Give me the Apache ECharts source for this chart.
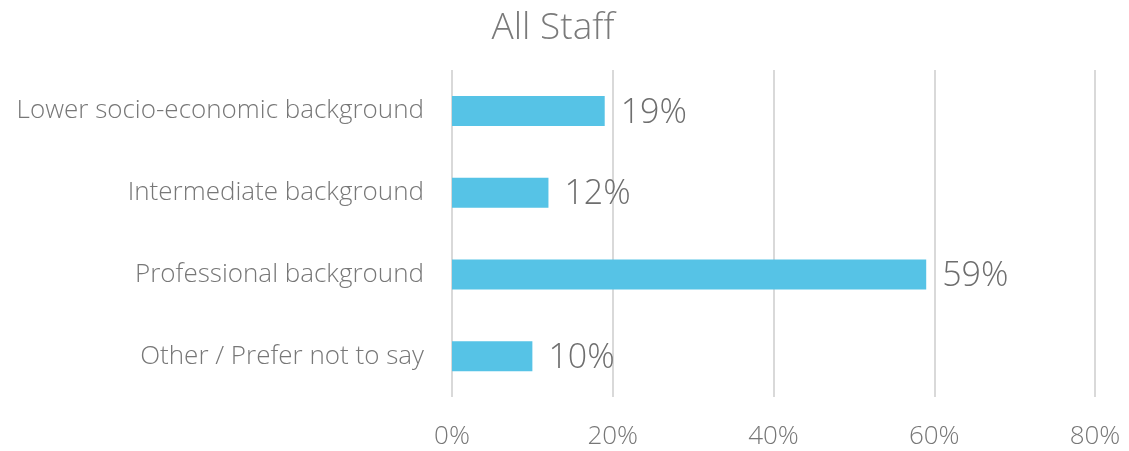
<!DOCTYPE html>
<html><head><meta charset="utf-8">
<script src="https://cdn.jsdelivr.net/npm/echarts@6/dist/echarts.min.js"></script>
<style>html,body{margin:0;padding:0;background:#fff}#c{width:1129px;height:451px}</style>
</head><body><div id="c"></div>
<script>
const categories = ["Lower socio-economic background","Intermediate background","Professional background","Other / Prefer not to say"];
const values = [19, 12, 59, 10];
const title = "All Staff";
const F = 'Open Sans';
const chart = echarts.init(document.getElementById('c'));
chart.setOption({
  animation:false,
  title:{text:title,left:548,top:5,textAlign:'center',textStyle:{fontFamily:F,fontWeight:300,fontSize:37,color:'#7a7a7a'}},
  grid:{left:452,right:34,top:70,bottom:54},
  xAxis:{type:'value',min:0,max:80,interval:20,
    axisLabel:{formatter:'{value}%',fontFamily:F,fontWeight:300,fontSize:26,color:'#777',margin:27},
    splitLine:{lineStyle:{color:'#d9d9d9',width:2}},axisLine:{show:false},axisTick:{show:false}},
  yAxis:{type:'category',inverse:true,data:categories,
    axisLabel:{fontFamily:F,fontWeight:300,fontSize:26,color:'#777',margin:28,padding:[0,0,5,0]},
    axisLine:{show:false},axisTick:{show:false}},
  series:[{type:'bar',data:values,barWidth:30,itemStyle:{color:'#56C3E6'},
    label:{show:true,position:'right',distance:16,formatter:'{c}%',fontFamily:F,fontWeight:300,fontSize:34,color:'#6e6e6e',offset:[0,2]}}]
});
</script></body></html>
